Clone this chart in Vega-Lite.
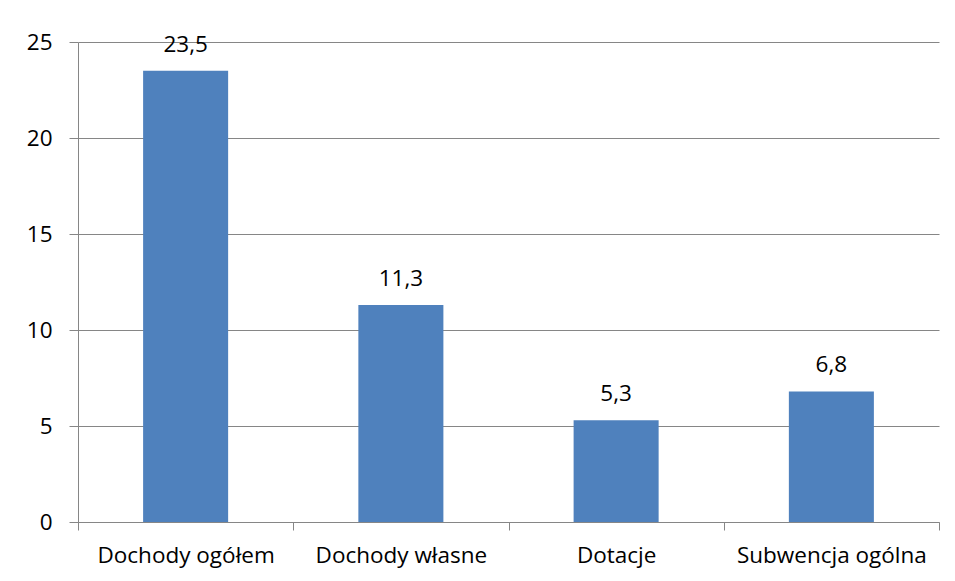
{
  "$schema": "https://vega.github.io/schema/vega-lite/v6.json",
  "width": 861,
  "height": 480,
  "autosize": "none",
  "padding": {"left": 78, "top": 42, "right": 16, "bottom": 59},
  "background": "white",
  "config": {
    "view": {"stroke": null},
    "font": "Open Sans",
    "locale": {"number": {"decimal": ",", "thousands": " ", "grouping": [3], "currency": ["", " zł"]}}
  },
  "data": {
    "values": [
      {"kategoria": "Dochody ogółem", "wartosc": 23.5},
      {"kategoria": "Dochody własne", "wartosc": 11.3},
      {"kategoria": "Dotacje", "wartosc": 5.3},
      {"kategoria": "Subwencja ogólna", "wartosc": 6.8}
    ]
  },
  "encoding": {
    "x": {
      "field": "kategoria",
      "type": "nominal",
      "sort": null,
      "scale": {"paddingInner": 0, "paddingOuter": 0},
      "axis": {
        "title": null,
        "labelAngle": 0,
        "labelFontSize": 22.5,
        "labelLimit": 0,
        "labelColor": "black",
        "labelPadding": 14,
        "domainColor": "#868686",
        "tickColor": "#868686",
        "tickBand": "extent",
        "tickSize": 8,
        "grid": false
      }
    },
    "y": {
      "field": "wartosc",
      "type": "quantitative",
      "scale": {"domain": [0, 25], "nice": false},
      "axis": {
        "title": null,
        "values": [0, 5, 10, 15, 20, 25],
        "labelFontSize": 22.5,
        "labelColor": "black",
        "labelPadding": 17,
        "domainColor": "#868686",
        "tickColor": "#868686",
        "tickSize": 9,
        "gridColor": "#868686",
        "gridOpacity": 1
      }
    }
  },
  "layer": [
    {"mark": {"type": "bar", "color": "#4F81BD", "width": {"band": 0.395}}},
    {
      "mark": {"type": "text", "baseline": "alphabetic", "dy": -19, "fontSize": 22.5, "color": "black"},
      "encoding": {"text": {"field": "wartosc", "type": "quantitative", "format": ".1f"}}
    }
  ]
}
